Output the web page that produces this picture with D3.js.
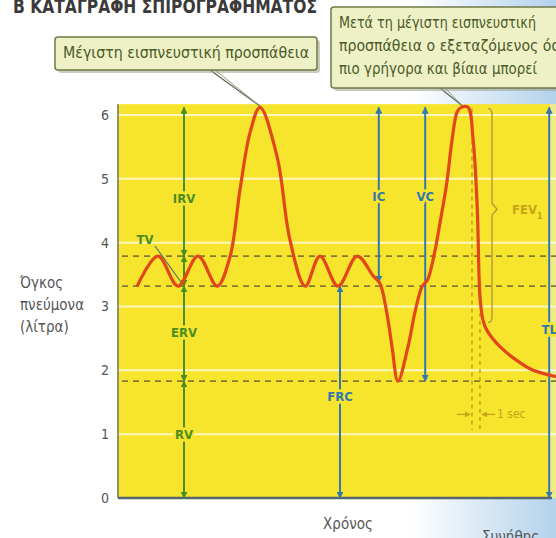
<!DOCTYPE html>
<html>
  <head>
    <meta charset="utf-8">
    <title>Spirogram</title>
    <script src="https://cdnjs.cloudflare.com/ajax/libs/d3/7.8.5/d3.min.js"></script>
    <style>
      body { margin: 0; background: #fff; }
      svg { display: block; }
      text { font-family: "Liberation Sans Narrow", "DejaVu Sans Condensed", "Roboto", sans-serif; }
    </style>
  </head>
  <body>
    <script>

      var outerWidth = 556;
      var outerHeight = 538;

      // volume (litres) ticks on the y axis
      var yTicks = [0, 1, 2, 3, 4, 5, 6];

      // spirogram trace: time (s) and lung volume (l)
      var breathT = [2.4, 5.0, 7.5, 10.0, 12.4, 14.0, 15.25, 16.5, 17.75, 19.9, 21.5, 23.4,
                     25.25, 27.5, 29.9, 31.9, 32.75, 33.6, 34.25, 35.0, 36.25, 37.1, 38.0,
                     38.7, 39.5, 40.25, 41.1, 41.75, 42.4, 42.9, 43.75, 44.4, 44.9, 45.25,
                     45.6, 46.1, 47.75, 50.25, 51.9, 54.75];
      var breathV = [3.32, 3.79, 3.32, 3.79, 3.32, 3.78, 4.83, 5.72, 6.12, 5.34, 4.04, 3.32,
                     3.79, 3.32, 3.79, 3.48, 3.36, 2.9, 2.37, 1.83, 2.37, 2.9, 3.31,
                     3.42, 3.8, 4.31, 4.94, 5.6, 6.05, 6.12, 6.12, 5.6, 4.56, 3.15,
                     2.8, 2.63, 2.37, 2.12, 2.0, 1.9];

      // reference levels (dashed): end-inspiration, end-expiration (FRC), residual volume
      var dashedLevels = [3.79, 3.32, 1.83];

      // green volume arrows (at one time position)
      var volNames = ["IRV", "TV", "ERV", "RV"];
      var volFrom  = [6.12, 3.79, 3.32, 1.83];
      var volTo    = [3.79, 3.32, 1.83, 0];
      var volLabel = [4.7, null, 2.6, 1.0];
      var volT = 8.25;

      // blue capacity arrows
      var capNames = ["IC", "VC", "FRC", "TL"];
      var capT     = [32.6, 38.4, 27.75, 53.9];
      var capFrom  = [6.12, 6.12, 3.32, 6.12];
      var capTo    = [3.38, 1.83, 0, 0];
      var capLabel = [4.73, 4.73, 1.6, 2.65];

      // FEV1 brace and 1 sec markers
      var fevTop = 6.1, fevBottom = 2.75;
      var secT = [44.25, 45.25];
      var secFrom = [6.1, 2.9];
      var secTo = 1.07;

      var titleText = "Β  ΚΑΤΑΓΡΑΦΗ ΣΠΙΡΟΓΡΑΦΗΜΑΤΟΣ";
      var note1 = ["Μέγιστη εισπνευστική προσπάθεια"];
      var note2 = ["Μετά τη μέγιστη εισπνευστική",
                   "προσπάθεια ο εξεταζόμενος όσο",
                   "πιο γρήγορα και βίαια μπορεί"];
      var yTitle = ["Όγκος", "πνεύμονα", "(λίτρα)"];

      var green = "#4a8e22", blue = "#3278ad", red = "#e2471c", gold = "#c7a518";
      var yellow = "#f7e42c";

      var xScale = d3.scaleLinear().domain([0, 54]).range([118, 550]);
      var yScale = d3.scaleLinear().domain([0, 6]).range([498, 115]);

      var svg = d3.select("body").append("svg")
        .attr("width", outerWidth)
        .attr("height", outerHeight);

      var defs = svg.append("defs");
      var bg = defs.append("linearGradient").attr("id", "bg")
        .attr("x1", 0).attr("x2", 1).attr("y1", 0).attr("y2", 0);
      bg.append("stop").attr("offset", "0.74").attr("stop-color", "#ffffff");
      bg.append("stop").attr("offset", "1").attr("stop-color", "#b3d2ec");

      function marker(id, color, size) {
        defs.append("marker").attr("id", id)
          .attr("viewBox", "0 0 10 10").attr("refX", 9).attr("refY", 5)
          .attr("markerWidth", size).attr("markerHeight", size)
          .attr("markerUnits", "userSpaceOnUse")
          .attr("orient", "auto-start-reverse")
          .append("path").attr("d", "M0,0L10,5L0,10z").attr("fill", color);
      }
      marker("ag", green, 7);
      marker("ab", blue, 7);
      marker("ay", gold, 6);

      svg.append("rect").attr("width", outerWidth).attr("height", outerHeight).attr("fill", "url(#bg)");

      // title (cut at top edge, as in the scan)
      svg.append("text").attr("x", 13).attr("y", 13)
        .attr("font-size", 19).attr("font-weight", "bold").attr("fill", "#3a3a3a")
        .attr("textLength", 304).attr("lengthAdjust", "spacingAndGlyphs")
        .text(titleText);

      // plot background
      var x0 = xScale(0), x1 = xScale(54);
      svg.append("rect")
        .attr("x", x0).attr("y", yScale(6.17))
        .attr("width", x1 - x0).attr("height", yScale(0) - yScale(6.17))
        .attr("fill", yellow);
      svg.append("rect")
        .attr("x", x1).attr("y", yScale(6.17))
        .attr("width", outerWidth - x1).attr("height", yScale(0) - yScale(6.17))
        .attr("fill", "#f2ea86");

      // white grid lines
      svg.append("g").selectAll("line").data(yTicks.filter(function (d) { return d > 0; }))
        .enter().append("line")
        .attr("x1", x0).attr("x2", outerWidth)
        .attr("y1", function (d) { return yScale(d); })
        .attr("y2", function (d) { return yScale(d); })
        .attr("stroke", "#ffffff").attr("stroke-opacity", 0.7).attr("stroke-width", 2);

      // y axis tick labels
      var yAxis = d3.axisLeft(yScale).tickValues(yTicks).tickFormat(d3.format("d"))
        .tickSize(0).tickPadding(9);
      var yAxisG = svg.append("g").attr("transform", "translate(" + x0 + ",0)").call(yAxis);
      yAxisG.select(".domain").remove();
      yAxisG.selectAll("text").attr("font-size", 14).attr("fill", "#555")
        .style("font-family", "'DejaVu Sans Condensed', sans-serif");

      svg.append("line").attr("x1", x0).attr("x2", x0)
        .attr("y1", yScale(6.17)).attr("y2", yScale(0))
        .attr("stroke", "#8f9468").attr("stroke-width", 2);
      svg.append("line").attr("x1", x0).attr("x2", x1 + 2)
        .attr("y1", yScale(0)).attr("y2", yScale(0))
        .attr("stroke", "#56666e").attr("stroke-width", 2.5);

      // axis titles
      svg.append("g").selectAll("text").data(yTitle).enter().append("text")
        .attr("x", 20).attr("y", function (d, i) { return 288 + i * 22; })
        .attr("font-size", 15).attr("fill", "#555").text(function (d) { return d; });
      svg.append("text").attr("x", 348).attr("y", 529).attr("text-anchor", "middle")
        .attr("font-size", 15).attr("fill", "#555").text("Χρόνος");
      svg.append("text").attr("x", 482).attr("y", 542)
        .attr("font-size", 15).attr("fill", "#555").text("Συνήθης");

      // dashed reference levels
      svg.append("g").selectAll("line").data(dashedLevels).enter().append("line")
        .attr("x1", x0 + 4).attr("x2", outerWidth)
        .attr("y1", function (d) { return yScale(d); })
        .attr("y2", function (d) { return yScale(d); })
        .attr("stroke", "#857a35").attr("stroke-width", 1.7)
        .attr("stroke-dasharray", "6,5");

      // 1 sec dashed verticals
      svg.append("g").selectAll("line").data(secT).enter().append("line")
        .attr("x1", function (d) { return xScale(d); })
        .attr("x2", function (d) { return xScale(d); })
        .attr("y1", function (d, i) { return yScale(secFrom[i]); })
        .attr("y2", yScale(secTo))
        .attr("stroke", gold).attr("stroke-width", 1.6).attr("stroke-dasharray", "4,4");

      var secY = yScale(1.31);
      svg.append("line").attr("x1", xScale(secT[0]) - 15).attr("x2", xScale(secT[0]) - 2)
        .attr("y1", secY).attr("y2", secY)
        .attr("stroke", gold).attr("stroke-width", 1.4).attr("marker-end", "url(#ay)");
      svg.append("line").attr("x1", xScale(secT[1]) + 15).attr("x2", xScale(secT[1]) + 2)
        .attr("y1", secY).attr("y2", secY)
        .attr("stroke", gold).attr("stroke-width", 1.4).attr("marker-end", "url(#ay)");
      svg.append("text").attr("x", xScale(secT[1]) + 17).attr("y", secY + 4)
        .attr("font-size", 12).attr("fill", gold).text("1 sec");

      // FEV1 brace
      var bx = 492, yT = yScale(fevTop), yB = yScale(fevBottom), yM = yScale((fevTop + fevBottom) / 2 + 0.1);
      svg.append("path")
        .attr("d", "M" + (bx - 4) + "," + yT + " Q" + bx + "," + yT + " " + bx + "," + (yT + 6) +
                   " L" + bx + "," + (yM - 6) + " L" + (bx + 5) + "," + yM +
                   " L" + bx + "," + (yM + 6) + " L" + bx + "," + (yB - 6) +
                   " Q" + bx + "," + yB + " " + (bx - 4) + "," + yB)
        .attr("fill", "none").attr("stroke", "#b59f3e").attr("stroke-width", 1.5);
      var fev = svg.append("text").attr("x", 512).attr("y", yM + 5)
        .attr("font-size", 13).attr("font-weight", "bold").attr("fill", gold);
      fev.append("tspan").text("FEV");
      fev.append("tspan").attr("dy", 5).attr("font-size", 9).text("1");

      // green volume arrows
      var vx = xScale(volT);
      var vg = svg.append("g");
      vg.selectAll("line").data(volNames).enter().append("line")
        .attr("x1", vx).attr("x2", vx)
        .attr("y1", function (d, i) { return yScale(volFrom[i]); })
        .attr("y2", function (d, i) { return yScale(volTo[i]); })
        .attr("stroke", green).attr("stroke-width", 2)
        .attr("marker-start", "url(#ag)").attr("marker-end", "url(#ag)");
      vg.selectAll("text").data(volNames.filter(function (d, i) { return volLabel[i] !== null; }))
        .enter().append("text")
        .attr("x", vx).attr("y", function (d) { return yScale(volLabel[volNames.indexOf(d)]) + 5; })
        .attr("text-anchor", "middle").attr("font-size", 13).attr("font-weight", "bold")
        .attr("fill", green).attr("stroke", yellow).attr("stroke-width", 5)
        .attr("paint-order", "stroke").text(function (d) { return d; });

      // TV label with leader
      svg.append("line").attr("x1", 155).attr("y1", 246).attr("x2", vx - 2).attr("y2", yScale(3.36))
        .attr("stroke", "#4d7a6a").attr("stroke-width", 1.2);
      svg.append("text").attr("x", 145).attr("y", 244).attr("text-anchor", "middle")
        .attr("font-size", 13).attr("font-weight", "bold").attr("fill", green).text("TV");

      // blue capacity arrows
      var cg = svg.append("g");
      cg.selectAll("line").data(capNames).enter().append("line")
        .attr("x1", function (d, i) { return xScale(capT[i]); })
        .attr("x2", function (d, i) { return xScale(capT[i]); })
        .attr("y1", function (d, i) { return yScale(capFrom[i]); })
        .attr("y2", function (d, i) { return yScale(capTo[i]); })
        .attr("stroke", blue).attr("stroke-width", 2)
        .attr("marker-start", "url(#ab)").attr("marker-end", "url(#ab)");

      // breathing trace
      var line = d3.line()
        .x(function (d) { return xScale(d); })
        .y(function (d, i) { return yScale(breathV[i]); })
        .curve(d3.curveCatmullRom.alpha(0.5));
      svg.append("path").datum(breathT)
        .attr("d", line).attr("fill", "none")
        .attr("stroke", red).attr("stroke-width", 3.2).attr("stroke-linejoin", "round");

      cg.selectAll("text").data(capNames).enter().append("text")
        .attr("x", function (d, i) { return xScale(capT[i]); })
        .attr("y", function (d, i) { return yScale(capLabel[i]) + 5; })
        .attr("text-anchor", "middle").attr("font-size", 13).attr("font-weight", "bold")
        .attr("fill", blue).attr("stroke", yellow).attr("stroke-width", 5)
        .attr("paint-order", "stroke").text(function (d) { return d; });

      // callouts
      function callout(x, y, w, h, lines, lineH, tx, ty, px, py) {
        var g = svg.append("g");
        g.append("line").attr("x1", tx).attr("y1", ty).attr("x2", px).attr("y2", py)
          .attr("stroke", "#5f6a55").attr("stroke-width", 1.3);
        g.append("line").attr("x1", tx + 5).attr("y1", ty).attr("x2", px).attr("y2", py)
          .attr("stroke", "#8f9a85").attr("stroke-width", 1);
        g.append("rect").attr("x", x + 3).attr("y", y + 3).attr("width", w).attr("height", h)
          .attr("rx", 3).attr("fill", "#9aa088").attr("opacity", 0.55);
        g.append("rect").attr("x", x).attr("y", y).attr("width", w).attr("height", h)
          .attr("rx", 3).attr("fill", "#eef1c6").attr("stroke", "#6f7a45").attr("stroke-width", 1.5);
        g.selectAll("text").data(lines).enter().append("text")
          .attr("x", x + 8).attr("y", function (d, i) { return y + lineH * 0.8 + 3 + i * lineH; })
          .attr("font-size", 15).attr("fill", "#4b5a28")
          .text(function (d) { return d; });
        return g;
      }
      var c1 = callout(55, 37, 262, 33, note1, 22, 210, 70, xScale(17.75), yScale(6.14));
      c1.select("text").attr("textLength", 246).attr("lengthAdjust", "spacingAndGlyphs");
      var c2 = callout(331, 7, 240, 81, note2, 23, 440, 88, xScale(43.0), yScale(6.15));
      c2.selectAll("text").attr("textLength", function (d, i) { return [197, 230, 198][i]; })
        .attr("lengthAdjust", "spacingAndGlyphs");

    </script>
  </body>
</html>
